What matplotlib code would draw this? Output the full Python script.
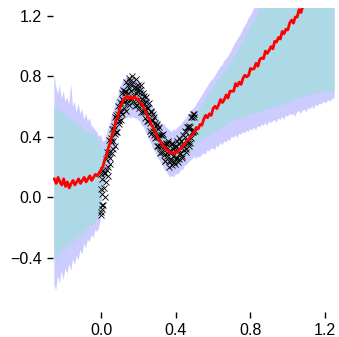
import numpy as np
import matplotlib
matplotlib.use('Agg')
import matplotlib.pyplot as plt

# prediction grid, x from -0.25 to 1.25
grid_x = [
    -0.25, -0.24, -0.23, -0.22, -0.21, -0.20, -0.19, -0.18, -0.17, -0.16,
    -0.15, -0.14, -0.13, -0.12, -0.11, -0.10, -0.09, -0.08, -0.07, -0.06,
    -0.05, -0.04, -0.03, -0.02, -0.01,
    0.00, 0.01, 0.02, 0.03, 0.04, 0.05, 0.06, 0.07, 0.08, 0.09,
    0.10, 0.11, 0.12, 0.13, 0.14, 0.15, 0.16, 0.17, 0.18, 0.19,
    0.20, 0.21, 0.22, 0.23, 0.24, 0.25, 0.26, 0.27, 0.28, 0.29,
    0.30, 0.31, 0.32, 0.33, 0.34, 0.35, 0.36, 0.37, 0.38, 0.39,
    0.40, 0.41, 0.42, 0.43, 0.44, 0.45, 0.46, 0.47, 0.48, 0.49, 0.50,
    0.51, 0.52, 0.53, 0.54, 0.55, 0.56, 0.57, 0.58, 0.59, 0.60,
    0.61, 0.62, 0.63, 0.64, 0.65, 0.66, 0.67, 0.68, 0.69, 0.70,
    0.71, 0.72, 0.73, 0.74, 0.75, 0.76, 0.77, 0.78, 0.79, 0.80,
    0.81, 0.82, 0.83, 0.84, 0.85, 0.86, 0.87, 0.88, 0.89, 0.90,
    0.91, 0.92, 0.93, 0.94, 0.95, 0.96, 0.97, 0.98, 0.99, 1.00,
    1.01, 1.02, 1.03, 1.04, 1.05, 1.06, 1.07, 1.08, 1.09, 1.10,
    1.11, 1.12, 1.13, 1.14, 1.15, 1.16, 1.17, 1.18, 1.19, 1.20,
    1.21, 1.22, 1.23, 1.24, 1.25,
]

# predictive mean (red)
mean_y = [
    0.12, 0.09, 0.13, 0.10, 0.08, 0.12, 0.07, 0.10, 0.06, 0.09,
    0.11, 0.08, 0.10, 0.12, 0.09, 0.11, 0.13, 0.10, 0.12, 0.14,
    0.11, 0.13, 0.15, 0.14, 0.16,
    0.18, 0.20, 0.25, 0.27, 0.33, 0.36, 0.42, 0.44, 0.51, 0.53,
    0.59, 0.61, 0.65, 0.65, 0.67, 0.65, 0.665, 0.65, 0.665, 0.645,
    0.65, 0.625, 0.615, 0.585, 0.565, 0.53, 0.515, 0.475, 0.46, 0.425,
    0.405, 0.375, 0.365, 0.34, 0.335, 0.31, 0.31, 0.29, 0.295, 0.285,
    0.30, 0.295, 0.315, 0.32, 0.345, 0.35, 0.375, 0.38, 0.405, 0.41, 0.435,
    0.46, 0.45, 0.48, 0.475, 0.515, 0.54, 0.525, 0.55, 0.54, 0.585,
    0.60, 0.585, 0.61, 0.645, 0.625, 0.645, 0.675, 0.655, 0.70, 0.70,
    0.70, 0.75, 0.735, 0.76, 0.745, 0.785, 0.805, 0.795, 0.805, 0.85,
    0.845, 0.85, 0.885, 0.865, 0.91, 0.92, 0.915, 0.965, 0.95, 0.97,
    0.995, 0.98, 1.03, 1.025, 1.055, 1.045, 1.095, 1.08, 1.11, 1.105,
    1.15, 1.17, 1.15, 1.19, 1.19, 1.24, 1.22, 1.26, 1.265, 1.27,
    1.30, 1.31, 1.33, 1.345, 1.36, 1.375, 1.39, 1.41, 1.425, 1.44,
    1.455, 1.47, 1.49, 1.505, 1.52,
]

# inner band (light blue)
inner_hi = [
    0.60, 0.57, 0.61, 0.55, 0.58, 0.53, 0.56, 0.50, 0.54, 0.49,
    0.52, 0.47, 0.50, 0.45, 0.48, 0.44, 0.46, 0.42, 0.45, 0.41,
    0.43, 0.40, 0.42, 0.39, 0.37,
    0.35, 0.31, 0.31, 0.36, 0.38, 0.45, 0.47, 0.53, 0.56, 0.62,
    0.64, 0.70, 0.71, 0.73, 0.72, 0.73, 0.72, 0.73, 0.72, 0.73,
    0.71, 0.71, 0.68, 0.67, 0.63, 0.61, 0.57, 0.56, 0.52, 0.51,
    0.47, 0.46, 0.43, 0.42, 0.40, 0.39, 0.37, 0.37, 0.36, 0.37,
    0.37, 0.39, 0.39, 0.41, 0.42, 0.44, 0.45, 0.48, 0.49, 0.51, 0.52,
    0.54, 0.56, 0.59, 0.60, 0.63, 0.64, 0.67, 0.69, 0.70, 0.73,
    0.74, 0.76, 0.78, 0.79, 0.81, 0.83, 0.84, 0.87, 0.88, 0.90,
    0.92, 0.95, 0.96, 0.99, 1.01, 1.03, 1.05, 1.08, 1.10, 1.12,
    1.15, 1.17, 1.19, 1.22, 1.24, 1.27, 1.29, 1.32, 1.34, 1.36,
    1.39, 1.41, 1.44, 1.46, 1.49, 1.52, 1.54, 1.57, 1.59, 1.62,
    1.65, 1.68, 1.70, 1.73, 1.76, 1.79, 1.81, 1.84, 1.86, 1.89,
    1.92, 1.95, 1.98, 2.01, 2.04, 2.06, 2.09, 2.12, 2.15, 2.19,
    2.22, 2.25, 2.29, 2.32, 2.35,
]
inner_lo = [
    -0.42, -0.36, -0.44, -0.35, -0.39, -0.31, -0.37, -0.30, -0.34, -0.28,
    -0.33, -0.26, -0.30, -0.24, -0.28, -0.22, -0.25, -0.19, -0.23, -0.17,
    -0.20, -0.15, -0.18, -0.13, -0.12,
    -0.06, 0.10, 0.17, 0.20, 0.26, 0.29, 0.35, 0.37, 0.44, 0.46,
    0.52, 0.54, 0.58, 0.58, 0.60, 0.58, 0.60, 0.59, 0.60, 0.58,
    0.58, 0.56, 0.54, 0.51, 0.50, 0.46, 0.45, 0.41, 0.39, 0.36,
    0.33, 0.31, 0.29, 0.27, 0.26, 0.24, 0.24, 0.22, 0.22, 0.21,
    0.22, 0.22, 0.23, 0.24, 0.26, 0.27, 0.29, 0.29, 0.31, 0.32, 0.34,
    0.35, 0.36, 0.37, 0.37, 0.39, 0.39, 0.41, 0.40, 0.42, 0.42,
    0.44, 0.43, 0.45, 0.45, 0.46, 0.47, 0.47, 0.49, 0.49, 0.51,
    0.50, 0.52, 0.51, 0.52, 0.52, 0.53, 0.52, 0.54, 0.54, 0.55,
    0.54, 0.56, 0.55, 0.56, 0.56, 0.57, 0.57, 0.58, 0.58, 0.59,
    0.58, 0.59, 0.60, 0.59, 0.60, 0.61, 0.60, 0.62, 0.61, 0.62,
    0.63, 0.63, 0.64, 0.64, 0.65, 0.65, 0.66, 0.66, 0.67, 0.67,
    0.68, 0.67, 0.68, 0.69, 0.68, 0.69, 0.69, 0.70, 0.70, 0.69,
    0.70, 0.69, 0.70, 0.69, 0.69,
]

# outer band (lavender)
outer_hi = [
    0.82, 0.73, 0.68, 0.74, 0.65, 0.70, 0.63, 0.66, 0.61, 0.75,
    0.60, 0.63, 0.56, 0.62, 0.55, 0.58, 0.51, 0.55, 0.50, 0.52,
    0.47, 0.46, 0.44, 0.43, 0.40,
    0.41, 0.37, 0.37, 0.41, 0.46, 0.49, 0.55, 0.58, 0.64, 0.66,
    0.72, 0.74, 0.78, 0.78, 0.80, 0.78, 0.79, 0.78, 0.80, 0.77,
    0.78, 0.75, 0.74, 0.71, 0.69, 0.66, 0.65, 0.61, 0.59, 0.56,
    0.54, 0.51, 0.49, 0.48, 0.48, 0.46, 0.45, 0.44, 0.43, 0.45,
    0.44, 0.46, 0.47, 0.48, 0.50, 0.51, 0.53, 0.55, 0.56, 0.58, 0.59,
    0.61, 0.63, 0.65, 0.67, 0.69, 0.71, 0.73, 0.75, 0.77, 0.78,
    0.80, 0.82, 0.84, 0.86, 0.87, 0.90, 0.91, 0.93, 0.95, 0.97,
    1.00, 1.02, 1.04, 1.06, 1.08, 1.11, 1.13, 1.15, 1.18, 1.20,
    1.22, 1.25, 1.27, 1.30, 1.32, 1.35, 1.37, 1.40, 1.42, 1.44,
    1.47, 1.49, 1.52, 1.54, 1.57, 1.60, 1.62, 1.65, 1.67, 1.70,
    1.73, 1.76, 1.79, 1.81, 1.84, 1.87, 1.90, 1.93, 1.95, 1.98,
    2.01, 2.03, 2.07, 2.09, 2.12, 2.15, 2.17, 2.21, 2.23, 2.26,
    2.29, 2.31, 2.34, 2.37, 2.39,
]
outer_lo = [
    -0.58, -0.62, -0.52, -0.57, -0.49, -0.55, -0.47, -0.51, -0.44, -0.49,
    -0.41, -0.45, -0.39, -0.42, -0.35, -0.38, -0.31, -0.34, -0.28, -0.30,
    -0.25, -0.27, -0.22, -0.23, -0.20,
    -0.14, 0.04, 0.11, 0.14, 0.20, 0.23, 0.28, 0.33, 0.36, 0.42,
    0.44, 0.50, 0.51, 0.53, 0.52, 0.53, 0.52, 0.53, 0.52, 0.52,
    0.51, 0.50, 0.47, 0.46, 0.43, 0.40, 0.38, 0.35, 0.32, 0.30,
    0.27, 0.25, 0.23, 0.21, 0.18, 0.17, 0.15, 0.13, 0.14, 0.13,
    0.15, 0.15, 0.16, 0.18, 0.18, 0.21, 0.21, 0.23, 0.24, 0.25, 0.27,
    0.25, 0.27, 0.26, 0.28, 0.29, 0.28, 0.31, 0.30, 0.32, 0.32,
    0.31, 0.34, 0.33, 0.36, 0.34, 0.37, 0.36, 0.38, 0.37, 0.40,
    0.39, 0.41, 0.39, 0.42, 0.41, 0.43, 0.42, 0.44, 0.43, 0.45,
    0.44, 0.46, 0.44, 0.47, 0.46, 0.48, 0.47, 0.49, 0.47, 0.50,
    0.49, 0.50, 0.51, 0.49, 0.52, 0.51, 0.53, 0.51, 0.54, 0.53,
    0.55, 0.54, 0.55, 0.53, 0.56, 0.57, 0.55, 0.57, 0.58, 0.56,
    0.59, 0.58, 0.60, 0.58, 0.61, 0.60, 0.62, 0.61, 0.63, 0.62,
    0.63, 0.64, 0.63, 0.65, 0.65,
]

# training observations (black crosses)
obs_x = [
    0.0, 0.0025, 0.005, 0.0075, 0.01, 0.0125, 0.015, 0.0175,
    0.02, 0.0225, 0.025, 0.0275, 0.03, 0.0325, 0.035, 0.0375,
    0.04, 0.0425, 0.045, 0.0475, 0.05, 0.0525, 0.055, 0.0575,
    0.06, 0.0625, 0.065, 0.0675, 0.07, 0.0725, 0.075, 0.0775,
    0.08, 0.0825, 0.085, 0.0875, 0.09, 0.0925, 0.095, 0.0975,
    0.10, 0.1025, 0.105, 0.1075, 0.11, 0.1125, 0.115, 0.1175,
    0.12, 0.1225, 0.125, 0.1275, 0.13, 0.1325, 0.135, 0.1375,
    0.14, 0.1425, 0.145, 0.1475, 0.15, 0.1525, 0.155, 0.1575,
    0.16, 0.1625, 0.165, 0.1675, 0.17, 0.1725, 0.175, 0.1775,
    0.18, 0.1825, 0.185, 0.1875, 0.19, 0.1925, 0.195, 0.1975,
    0.20, 0.2025, 0.205, 0.2075, 0.21, 0.2125, 0.215, 0.2175,
    0.22, 0.2225, 0.225, 0.2275, 0.23, 0.2325, 0.235, 0.2375,
    0.24, 0.2425, 0.245, 0.2475, 0.25, 0.2525, 0.255, 0.2575,
    0.26, 0.2625, 0.265, 0.2675, 0.27, 0.2725, 0.275, 0.2775,
    0.28, 0.2825, 0.285, 0.2875, 0.29, 0.2925, 0.295, 0.2975,
    0.30, 0.3025, 0.305, 0.3075, 0.31, 0.3125, 0.315, 0.3175,
    0.32, 0.3225, 0.325, 0.3275, 0.33, 0.3325, 0.335, 0.3375,
    0.34, 0.3425, 0.345, 0.3475, 0.35, 0.3525, 0.355, 0.3575,
    0.36, 0.3625, 0.365, 0.3675, 0.37, 0.3725, 0.375, 0.3775,
    0.38, 0.3825, 0.385, 0.3875, 0.39, 0.3925, 0.395, 0.3975,
    0.40, 0.4025, 0.405, 0.4075, 0.41, 0.4125, 0.415, 0.4175,
    0.42, 0.4225, 0.425, 0.4275, 0.43, 0.4325, 0.435, 0.4375,
    0.44, 0.4425, 0.445, 0.4475, 0.45, 0.4525, 0.455, 0.4575,
    0.46, 0.4625, 0.465, 0.4675, 0.47, 0.4725, 0.475, 0.4775,
    0.48, 0.4825, 0.485, 0.4875, 0.49, 0.4925, 0.495, 0.4975,
    0.50, 0.5025,
    0.001, 0.003, 0.006, 0.002,
]
obs_y = [
    0.05, -0.10, -0.05, 0.12, 0.18, -0.05, 0.06, 0.16,
    0.00, 0.16, 0.25, 0.10, 0.18, 0.30, 0.28, 0.14,
    0.20, 0.30, 0.38, 0.26, 0.22, 0.39, 0.37, 0.29,
    0.45, 0.37, 0.32, 0.45, 0.47, 0.34, 0.42, 0.53,
    0.54, 0.43, 0.43, 0.52, 0.55, 0.60, 0.50, 0.48,
    0.63, 0.57, 0.56, 0.51, 0.65, 0.69, 0.55, 0.64,
    0.71, 0.59, 0.63, 0.70, 0.69, 0.57, 0.76, 0.64,
    0.62, 0.74, 0.69, 0.79, 0.61, 0.72, 0.77, 0.65,
    0.70, 0.75, 0.65, 0.80, 0.76, 0.63, 0.67, 0.72,
    0.73, 0.60, 0.78, 0.69, 0.61, 0.72, 0.70, 0.64,
    0.74, 0.59, 0.62, 0.69, 0.71, 0.74, 0.56, 0.62,
    0.65, 0.69, 0.56, 0.57, 0.67, 0.62, 0.58, 0.52,
    0.63, 0.66, 0.50, 0.59, 0.59, 0.50, 0.62, 0.55,
    0.49, 0.44, 0.57, 0.56, 0.42, 0.51, 0.50, 0.44,
    0.55, 0.53, 0.41, 0.39, 0.49, 0.47, 0.40, 0.34,
    0.48, 0.45, 0.34, 0.40, 0.41, 0.46, 0.29, 0.34,
    0.41, 0.30, 0.34, 0.41, 0.42, 0.30, 0.28, 0.35,
    0.34, 0.24, 0.24, 0.36, 0.35, 0.29, 0.27, 0.37,
    0.36, 0.24, 0.20, 0.30, 0.31, 0.25, 0.24, 0.35,
    0.36, 0.21, 0.27, 0.32, 0.33, 0.23, 0.22, 0.31,
    0.34, 0.26, 0.26, 0.37, 0.32, 0.23, 0.25, 0.35,
    0.39, 0.29, 0.29, 0.37, 0.37, 0.27, 0.26, 0.36,
    0.41, 0.31, 0.34, 0.44, 0.40, 0.30, 0.32, 0.43,
    0.46, 0.37, 0.36, 0.46, 0.47, 0.34, 0.36, 0.46,
    0.53, 0.39, 0.43, 0.53, 0.55, 0.43, 0.44, 0.55,
    0.53, 0.44,
    -0.12, -0.08, 0.02, 0.15,
]

x_ticks = [0.0, 0.4, 0.8, 1.2]
y_ticks = [-0.4, 0.0, 0.4, 0.8, 1.2]

for name, arr in [('mean_y', mean_y), ('inner_hi', inner_hi), ('inner_lo', inner_lo),
                  ('outer_hi', outer_hi), ('outer_lo', outer_lo)]:
    if len(arr) != len(grid_x):
        raise ValueError(f'{name}: {len(arr)} vs {len(grid_x)}')
if len(obs_x) != len(obs_y):
    raise ValueError(f'obs: {len(obs_x)} vs {len(obs_y)}')

plt.rcParams['font.family'] = ['Liberation Sans', 'DejaVu Sans']

W, H = 339, 337
fig = plt.figure(figsize=(W / 100, H / 100), dpi=100)
ax = fig.add_axes([53 / W, 25 / H, (W - 53) / W, (312 - 8) / H])

ax.fill_between(grid_x, outer_lo, outer_hi, color='#ccccff', lw=0)
ax.fill_between(grid_x, inner_lo, inner_hi, color='#add8e6', lw=0)
ax.plot(obs_x, obs_y, 'x', color='black', ms=4, mew=0.6)
ax.plot(grid_x, mean_y, color='red', lw=2.0)

ax.set_xlim(-0.257, 1.274)
ax.set_ylim(-0.760, 1.250)
for s in ax.spines.values():
    s.set_visible(False)
ax.set_xticks(x_ticks)
ax.set_yticks(y_ticks)
ax.set_xticklabels([f'{t:.1f}' for t in x_ticks])
ax.set_yticklabels([f'{t:.1f}'.replace('-', '\u2212') for t in y_ticks])
ax.tick_params(direction='out', length=4, width=1, labelsize=11.5, pad=4)

fig.savefig('out.png', dpi=100)
